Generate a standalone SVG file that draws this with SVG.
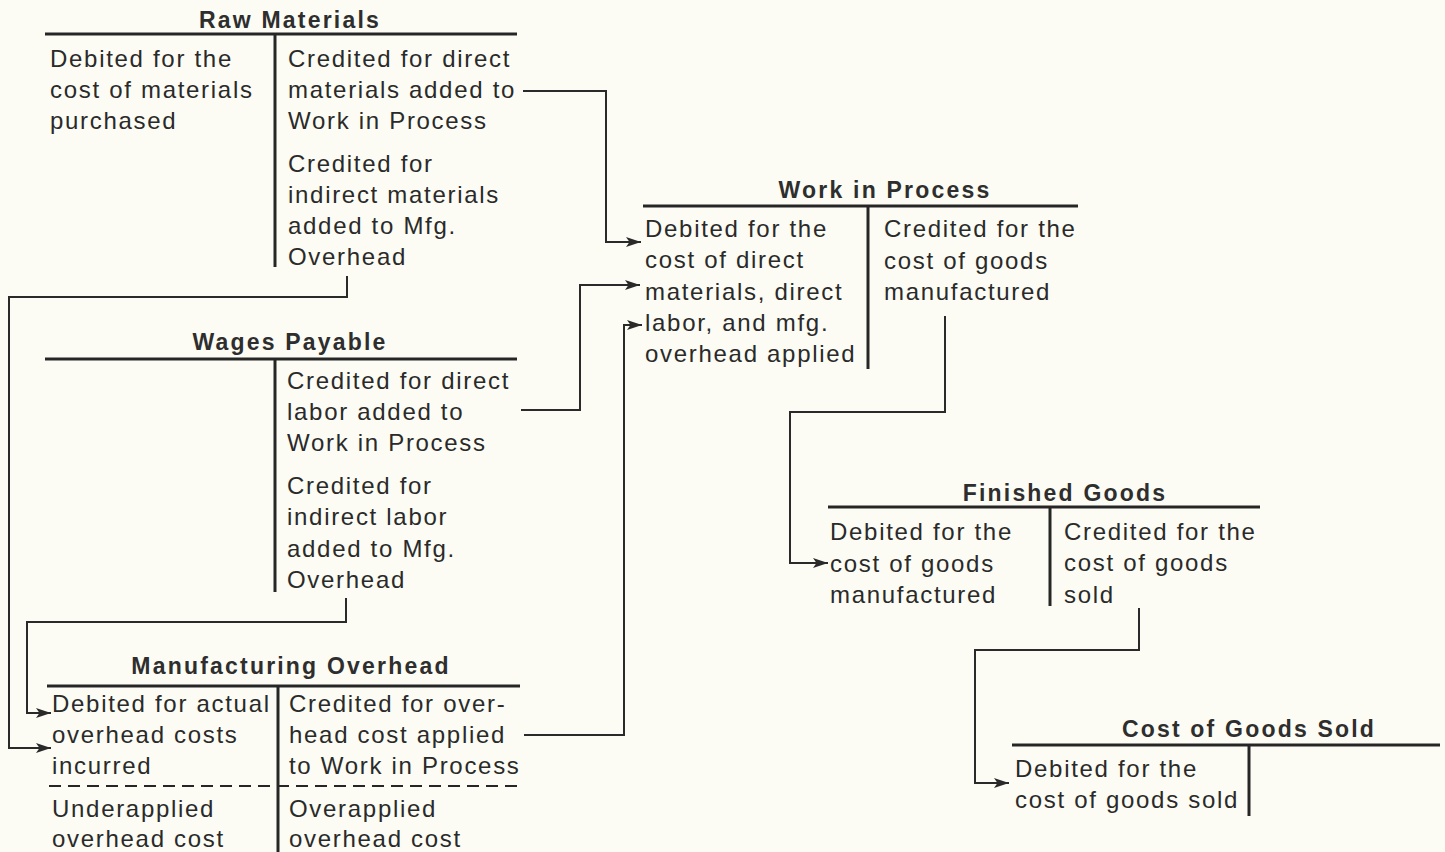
<svg xmlns="http://www.w3.org/2000/svg" width="1445" height="852" viewBox="0 0 1445 852">
  <defs>
    <style>
      .title { font-family: "Liberation Sans", Arial, sans-serif; font-size: 23px; font-weight: bold; letter-spacing: 2.2px; fill: #2e2e2e; text-anchor: middle; }
      .txt { font-family: "Liberation Sans", Arial, sans-serif; font-size: 24px; letter-spacing: 1.7px; fill: #2a2a2a; }
      .rule { stroke: #262626; stroke-width: 3; fill: none; }
      .div { stroke: #262626; stroke-width: 3; fill: none; }
      .dash { stroke: #262626; stroke-width: 2; stroke-dasharray: 12 7; fill: none; }
      .flow { stroke: #2a2a2a; stroke-width: 2; fill: none; }
      .flow.arrow { marker-end: url(#head); }
    </style>
    <marker id="head" markerUnits="userSpaceOnUse" markerWidth="16" markerHeight="12" refX="15" refY="6" orient="auto">
      <path d="M0,1 L15,6 L0,11 L3.5,6 Z" fill="#2a2a2a"/>
    </marker>
  </defs>

  <rect width="1445" height="852" fill="#fcfcf4"/>

  <!-- Raw Materials T-account -->
  <g id="raw-materials">
    <text class="title" x="290" y="28">Raw Materials</text>
    <line class="rule" x1="45" y1="34" x2="517" y2="34"/>
    <line class="div" x1="275" y1="35" x2="275" y2="267"/>
    <text class="txt" x="50" y="67">Debited for the</text>
    <text class="txt" x="50" y="98">cost of materials</text>
    <text class="txt" x="50" y="129">purchased</text>
    <text class="txt" x="288" y="67">Credited for direct</text>
    <text class="txt" x="288" y="98">materials added to</text>
    <text class="txt" x="288" y="129">Work in Process</text>
    <text class="txt" x="288" y="172">Credited for</text>
    <text class="txt" x="288" y="203">indirect materials</text>
    <text class="txt" x="288" y="234">added to Mfg.</text>
    <text class="txt" x="288" y="265">Overhead</text>
  </g>

  <!-- Wages Payable T-account -->
  <g id="wages-payable">
    <text class="title" x="290" y="350">Wages Payable</text>
    <line class="rule" x1="45" y1="359" x2="517" y2="359"/>
    <line class="div" x1="275" y1="360" x2="275" y2="592"/>
    <text class="txt" x="287" y="389">Credited for direct</text>
    <text class="txt" x="287" y="420">labor added to</text>
    <text class="txt" x="287" y="451">Work in Process</text>
    <text class="txt" x="287" y="494">Credited for</text>
    <text class="txt" x="287" y="525">indirect labor</text>
    <text class="txt" x="287" y="557">added to Mfg.</text>
    <text class="txt" x="287" y="588">Overhead</text>
  </g>

  <!-- Manufacturing Overhead T-account -->
  <g id="manufacturing-overhead">
    <text class="title" x="291" y="674">Manufacturing Overhead</text>
    <line class="rule" x1="47" y1="686" x2="520" y2="686"/>
    <line class="div" x1="278" y1="687" x2="278" y2="852"/>
    <line class="dash" x1="49" y1="786" x2="524" y2="786"/>
    <text class="txt" x="52" y="712">Debited for actual</text>
    <text class="txt" x="52" y="743">overhead costs</text>
    <text class="txt" x="52" y="774">incurred</text>
    <text class="txt" x="52" y="817">Underapplied</text>
    <text class="txt" x="52" y="847">overhead cost</text>
    <text class="txt" x="289" y="712">Credited for over-</text>
    <text class="txt" x="289" y="743">head cost applied</text>
    <text class="txt" x="289" y="774">to Work in Process</text>
    <text class="txt" x="289" y="817">Overapplied</text>
    <text class="txt" x="289" y="847">overhead cost</text>
  </g>

  <!-- Work in Process T-account -->
  <g id="work-in-process">
    <text class="title" x="885" y="198">Work in Process</text>
    <line class="rule" x1="643" y1="206" x2="1078" y2="206"/>
    <line class="div" x1="868" y1="207" x2="868" y2="369"/>
    <text class="txt" x="645" y="237">Debited for the</text>
    <text class="txt" x="645" y="268">cost of direct</text>
    <text class="txt" x="645" y="300">materials, direct</text>
    <text class="txt" x="645" y="331">labor, and mfg.</text>
    <text class="txt" x="645" y="362">overhead applied</text>
    <text class="txt" x="884" y="237">Credited for the</text>
    <text class="txt" x="884" y="269">cost of goods</text>
    <text class="txt" x="884" y="300">manufactured</text>
  </g>

  <!-- Finished Goods T-account -->
  <g id="finished-goods">
    <text class="title" x="1065" y="501">Finished Goods</text>
    <line class="rule" x1="828" y1="507" x2="1260" y2="507"/>
    <line class="div" x1="1050" y1="508" x2="1050" y2="606"/>
    <text class="txt" x="830" y="540">Debited for the</text>
    <text class="txt" x="830" y="572">cost of goods</text>
    <text class="txt" x="830" y="603">manufactured</text>
    <text class="txt" x="1064" y="540">Credited for the</text>
    <text class="txt" x="1064" y="571">cost of goods</text>
    <text class="txt" x="1064" y="603">sold</text>
  </g>

  <!-- Cost of Goods Sold T-account -->
  <g id="cost-of-goods-sold">
    <text class="title" x="1249" y="737">Cost of Goods Sold</text>
    <line class="rule" x1="1012" y1="745" x2="1440" y2="745"/>
    <line class="div" x1="1249" y1="746" x2="1249" y2="816"/>
    <text class="txt" x="1015" y="777">Debited for the</text>
    <text class="txt" x="1015" y="808">cost of goods sold</text>
  </g>

  <!-- Cost flows between accounts -->
  <g id="connectors">
    <polyline class="flow arrow" points="523,91 606,91 606,242 641,242"/>
    <polyline class="flow arrow" points="347,276 347,297 9,297 9,748 51,748"/>
    <polyline class="flow arrow" points="521,410 580,410 580,285 640,285"/>
    <polyline class="flow arrow" points="346,598 346,622 27,622 27,713 51,713"/>
    <polyline class="flow arrow" points="524,735 624,735 624,325 642,325"/>
    <polyline class="flow arrow" points="945,316 945,412 790,412 790,563 828,563"/>
    <polyline class="flow arrow" points="1139,608 1139,650 975,650 975,783 1009,783"/>
  </g>
</svg>
